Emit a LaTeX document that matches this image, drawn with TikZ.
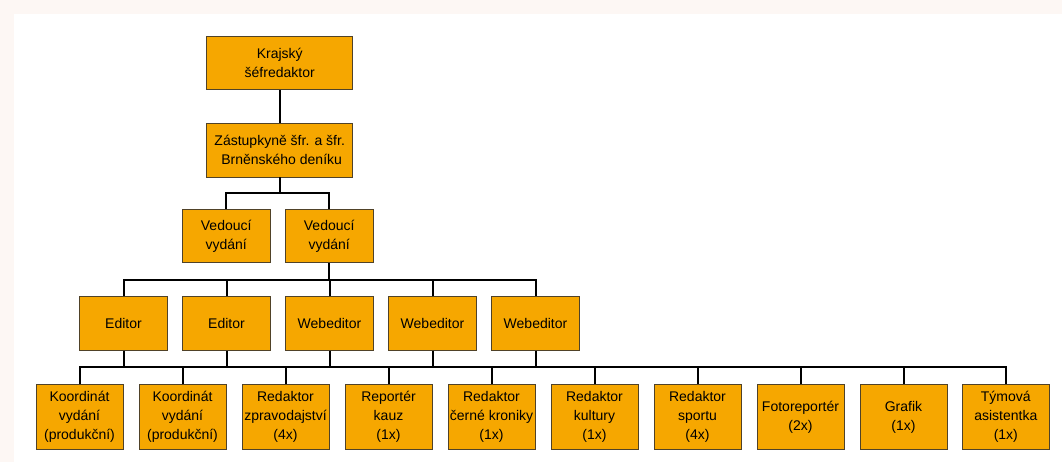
\documentclass[tikz,border=0pt]{standalone}
\usepackage{fontspec}
\setmainfont{Liberation Sans}
\definecolor{boxfill}{RGB}{246,167,0}
\definecolor{boxline}{RGB}{80,66,40}
\definecolor{pagebg}{RGB}{253,247,244}
\begin{document}
\begin{tikzpicture}[x=1pt,y=-1pt,
  box/.style={draw=boxline,line width=0.8pt,fill=boxfill,align=center,inner sep=1pt,
    font=\fontsize{14}{19}\selectfont,text=black},
  wide/.style={box,minimum width=146pt,minimum height=53.5pt},
  mid/.style={box,minimum width=87.5pt,minimum height=53.5pt},
  low/.style={box,minimum width=87pt,minimum height=65pt},
  conn/.style={draw=black,line width=2pt,line join=miter}]
\useasboundingbox (0,0) rectangle (1062,462);
\fill[pagebg] (0,0) rectangle (1062,462);
\fill[white] (14,14) rectangle (1062,462);

\node[wide] (top) at (279.7,62.8) {Krajský\\šéfredaktor};
\node[wide] (sec) at (279.7,150.3) {Zástupkyně šfr. a šfr.\\\ Brněnského deníku};
\node[mid] (v1) at (226.2,235.9) {Vedoucí\\vydání};
\node[mid] (v2) at (329.2,235.9) {Vedoucí\\vydání};
\node[mid] (e1) at (123.5,323.5) {Editor};
\node[mid] (e2) at (226.5,323.5) {Editor};
\node[mid] (e3) at (329.5,323.5) {Webeditor};
\node[mid] (e4) at (432.5,323.5) {Webeditor};
\node[mid] (e5) at (535.5,323.5) {Webeditor};
\node[low] (k1) at (79.5,417) {Koordinát\\vydání\\(produkční)};
\node[low] (k2) at (182.5,417) {Koordinát\\vydání\\(produkční)};
\node[low] (k3) at (285.5,417) {Redaktor\\zpravodajství\\(4x)};
\node[low] (k4) at (388.5,417) {Reportér\\kauz\\(1x)};
\node[low] (k5) at (491.5,417) {Redaktor\\černé kroniky\\(1x)};
\node[low] (k6) at (594.5,417) {Redaktor\\kultury\\(1x)};
\node[low] (k7) at (697.5,417) {Redaktor\\sportu\\(4x)};
\node[low] (k8) at (800.5,417) {Fotoreportér\\(2x)};
\node[low] (k9) at (903.5,417) {Grafik\\(1x)};
\node[low] (k10) at (1005.8,417) {Týmová\\asistentka\\(1x)};

\coordinate (bus1) at (0,193);
\coordinate (bus2) at (0,280);
\coordinate (bus3) at (0,366.7);

\draw[conn] (top.south) -- (sec.north);
\draw[conn] (sec.south) -- (sec.south |- bus1);
\draw[conn] (v1.north) -- (v1.north |- bus1) -- (v2.north |- bus1) -- (v2.north);

\draw[conn] (v2.south) -- (v2.south |- bus2);
\draw[conn] (e1.north) -- (e1.north |- bus2) -- (e5.north |- bus2) -- (e5.north);
\foreach \n in {e2,e3,e4} \draw[conn] (\n.north) -- (\n.north |- bus2);

\foreach \n in {e1,e2,e3,e4,e5} \draw[conn] (\n.south) -- (\n.south |- bus3);
\draw[conn] (k1.north) -- (k1.north |- bus3) -- (k10.north |- bus3) -- (k10.north);
\foreach \n in {k2,k3,k4,k5,k6,k7,k8,k9} \draw[conn] (\n.north) -- (\n.north |- bus3);
\end{tikzpicture}
\end{document}
